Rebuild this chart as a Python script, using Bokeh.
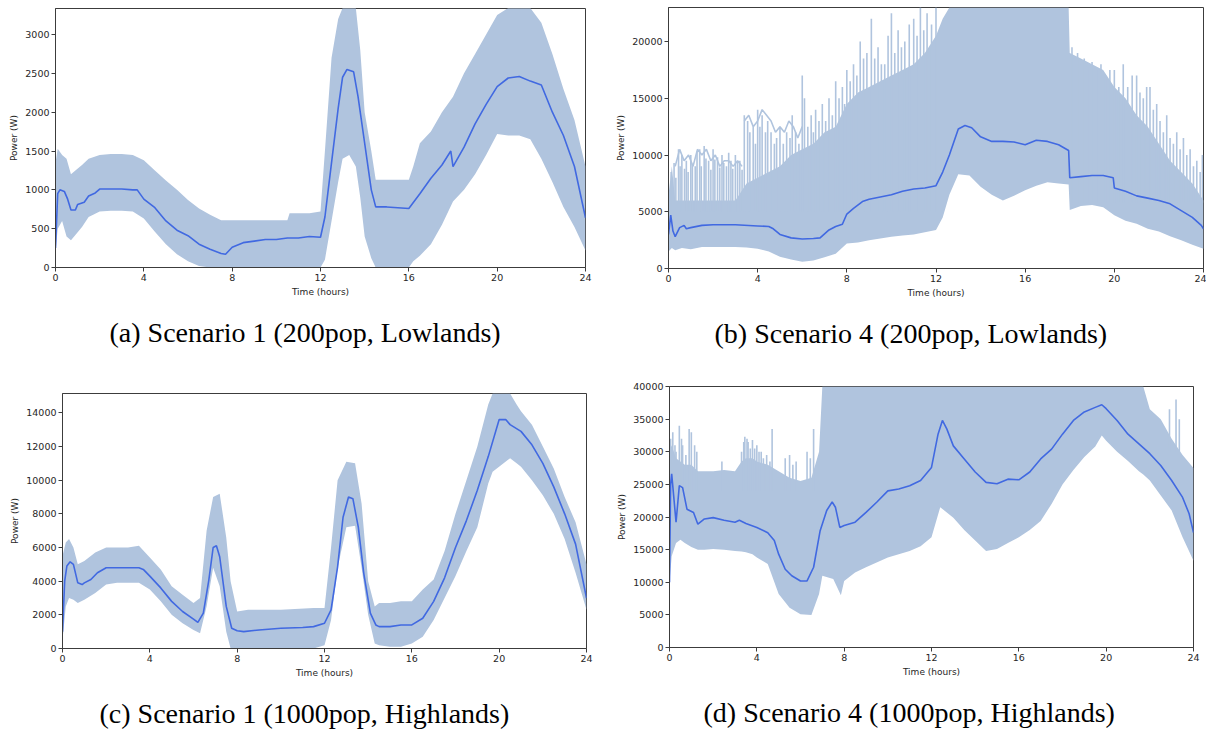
from bokeh.plotting import figure
from bokeh.layouts import column, row
from bokeh.models import Title, FixedTicker, Range1d
from bokeh.embed import file_html
from bokeh.resources import INLINE

BAND = "#b0c4de"
MEAN = "#4169e1"
AXIS = "#3c3c3c"
TXT = "#262626"

x_ticks = [0, 4, 8, 12, 16, 20, 24]

# ---------------- (a) Scenario 1 (200pop, Lowlands) ----------------
t_band_a = [0, 0.1, 0.3, 0.5, 0.7, 0.9, 1.2, 1.5, 2.0, 2.5, 3.0, 3.5, 4.0, 4.5, 5.0, 5.5, 6.0, 6.5, 7.0, 7.5,
            8.0, 9.0, 10.0, 10.5, 10.6, 11.5, 12.0, 12.2, 12.5, 12.8, 13.0, 13.3, 13.6, 13.8, 14.0, 14.3, 14.5,
            15.0, 15.5, 16.0, 16.2, 16.5, 17.0, 17.5, 18.0, 18.5, 19.0, 19.5, 20.0, 20.5, 21.0, 21.5, 22.0,
            22.5, 23.0, 23.5, 24.0]
upper_a = [1350, 1530, 1450, 1400, 1200, 1250, 1320, 1400, 1450, 1460, 1460, 1450, 1380, 1250, 1120, 1000, 870,
           760, 680, 610, 610, 610, 610, 610, 700, 700, 720, 1500, 2700, 3200, 3340, 3340, 3340, 2800, 2000,
           1500, 1130, 1130, 1130, 1130, 1300, 1600, 1750, 2000, 2200, 2500, 2750, 3000, 3250, 3340, 3340,
           3340, 3150, 2750, 2300, 1900, 1300]
lower_a = [200, 500, 600, 400, 350, 420, 520, 650, 720, 730, 730, 720, 630, 460, 300, 170, 80, 20, 0, 0, 0, 0,
           0, 0, 0, 0, 0, 100, 600, 1100, 1400, 1450, 1300, 900, 400, 120, 0, 0, 0, 0, 80, 150, 300, 550, 850,
           1000, 1200, 1450, 1720, 1700, 1700, 1650, 1400, 1100, 780, 520, 220]
t_mean_a = [0, 0.1, 0.2, 0.4, 0.55, 0.7, 0.9, 1.0, 1.3, 1.5, 1.8, 2.0, 2.5, 3.0, 3.5, 3.7, 4.0, 4.5, 5.0, 5.5,
            6.0, 6.5, 7.0, 7.5, 7.7, 8.0, 8.5, 9.0, 9.5, 10.0, 10.5, 11.0, 11.5, 12.0, 12.2, 12.5, 12.8, 13.0,
            13.2, 13.5, 13.7, 14.0, 14.3, 14.5, 15.0, 15.5, 16.0, 16.5, 17.0, 17.5, 17.9, 18.0, 18.5, 19.0,
            19.5, 20.0, 20.5, 21.0, 21.5, 22.0, 22.5, 23.0, 23.5, 24.0]
mean_a = [250, 950, 1000, 980, 880, 740, 740, 810, 840, 920, 960, 1010, 1010, 1010, 1000, 1000, 880, 770, 600,
          480, 410, 300, 235, 180, 170, 260, 320, 340, 360, 360, 380, 380, 400, 390, 650, 1350, 2050, 2450,
          2550, 2520, 2200, 1600, 1000, 780, 780, 770, 760, 950, 1150, 1320, 1500, 1300, 1550, 1850, 2100,
          2330, 2440, 2460, 2400, 2350, 2000, 1700, 1300, 640]

# ---------------- (b) Scenario 4 (200pop, Lowlands) ----------------
t_band_b = [0, 0.15, 0.3, 0.6, 1.0, 1.5, 2.0, 2.5, 3.0, 3.5, 4.0, 4.5, 5.0, 5.5, 6.0, 6.5, 7.0, 7.5, 8.0, 8.5,
            9.0, 9.5, 10.0, 10.5, 11.0, 11.5, 12.0, 12.3, 12.6, 13.0, 13.5, 14.0, 14.5, 15.0, 15.5, 16.0, 16.5,
            17.0, 17.5, 17.95, 18.0, 18.5, 19.0, 19.5, 20.0, 20.5, 21.0, 21.5, 22.0, 22.5, 23.0, 23.5, 24.0]
upper_b = [6500, 9000, 6000, 6000, 6000, 6000, 6000, 6000, 6000, 7500, 8000, 8500, 9000, 10000, 10500, 11000,
           12000, 12500, 14500, 15500, 16000, 16500, 17000, 17500, 18000, 19000, 20500, 22000, 23000, 23000,
           23000, 23000, 23000, 23000, 23000, 23000, 23000, 23000, 23000, 23000, 19000, 18500, 18000, 17500,
           16000, 15000, 13500, 12500, 11000, 9500, 8500, 7500, 6000]
lower_b = [1500, 1800, 1600, 1800, 1700, 1900, 1900, 1900, 1900, 1850, 1750, 1500, 1030, 800, 600, 700, 1000,
           1300, 2200, 2300, 2500, 2650, 2800, 2900, 3000, 3200, 3400, 4500, 6500, 8300, 8200, 7200, 6500,
           6000, 6400, 6900, 7300, 7600, 7500, 7400, 5150, 5500, 5600, 5400, 4700, 4200, 3950, 3500, 3250,
           2850, 2500, 2100, 1750]
t_mean_b = [0, 0.1, 0.2, 0.3, 0.5, 0.7, 0.8, 1.0, 1.5, 2.0, 3.0, 4.0, 4.5, 4.7, 5.0, 5.5, 6.0, 6.5, 6.8, 7.2,
            7.5, 7.8, 8.0, 8.3, 8.7, 9.0, 9.5, 10.0, 10.5, 11.0, 11.5, 12.0, 12.3, 12.6, 13.0, 13.3, 13.6,
            14.0, 14.5, 15.0, 15.5, 16.0, 16.5, 17.0, 17.5, 17.95, 18.0, 18.5, 19.0, 19.5, 19.95, 20.0, 20.5,
            21.0, 21.5, 22.0, 22.5, 23.0, 23.5, 23.9, 24.0]
mean_b = [3000, 4700, 3300, 2800, 3600, 3800, 3500, 3600, 3800, 3850, 3850, 3750, 3700, 3500, 3000, 2700, 2600,
          2650, 2700, 3400, 3700, 3900, 4800, 5300, 5900, 6100, 6300, 6500, 6800, 7000, 7100, 7300, 8500,
          10000, 12300, 12600, 12400, 11600, 11200, 11200, 11150, 10900, 11300, 11200, 10900, 10400, 8000,
          8100, 8200, 8200, 8000, 7100, 6800, 6400, 6200, 6000, 5700, 5100, 4500, 3800, 3500]
# individual outlier traces poking above the dense band (morning / late-day)
spike_t_b = [0.12, 0.25, 0.33, 0.45, 0.52, 0.6, 0.72, 0.8, 0.88, 1.0, 1.07, 1.2, 1.28, 1.4, 1.47, 1.6, 1.68,
             1.8, 1.9, 2.0, 2.08, 2.2, 2.3, 2.4, 2.48, 2.6, 2.7, 2.8, 2.88, 3.0, 3.1, 3.2, 3.3, 3.4,
             3.55, 3.65, 3.8, 3.9, 4.0, 4.1, 4.2, 4.35, 4.45, 4.6, 4.75, 4.85, 5.0, 5.15, 5.3, 5.45, 5.55,
             5.7, 5.85, 6.0, 6.1, 6.25, 6.4, 6.5, 6.6, 6.75, 6.9, 7.05, 7.2, 7.35, 7.5, 7.65, 7.8, 7.9,
             8.0, 8.15, 8.3, 8.45, 8.6, 8.75, 8.9, 9.1, 9.25, 9.4, 9.55, 9.7, 9.85, 10.0, 10.15, 10.3, 10.45,
             10.6, 10.8, 11.0, 11.15, 11.3, 11.45, 11.6, 11.8, 12.0]
spike_top_b = [8500, 9300, 8000, 10500, 9000, 10000, 8800, 9500, 8500, 10000, 9200, 9000, 10300, 10500, 9000,
               10800, 9700, 9500, 8700, 10500, 9600, 9800, 8900, 10000, 9300, 9000, 10200, 9500, 8800, 10000,
               9400, 9500, 8700, 13500,
               13000, 12000, 12500, 11000, 14000, 12500, 13500, 12000, 13000, 12000, 11000, 11500, 12500, 11000,
               12000, 11500, 13500, 12000, 11000, 17000, 15000, 12500, 13500, 12000, 14000, 13000, 14500, 13000,
               15000, 13500, 16500, 15000, 16000, 14500,
               17500, 16500, 18000, 17000, 20000, 18500, 19000, 22000, 18500, 19500, 18000, 18000, 20500, 22500,
               19000, 21000, 19500, 20000, 21500, 22000, 20500, 23000, 21000, 22500, 21500, 23000]
spike_t_b2 = [18.1, 18.2, 18.35, 18.5, 18.65, 18.8, 19.0, 19.2, 19.4, 19.6, 19.8, 20.0, 20.2, 20.4, 20.6, 20.8,
              21.0, 21.15, 21.3, 21.45, 21.6, 21.75, 21.9, 22.05, 22.2, 22.35, 22.5, 22.65, 22.8, 22.95, 23.1,
              23.25, 23.4, 23.55, 23.7, 23.85, 23.95]
spike_top_b2 = [19500, 18500, 19000, 18000, 18500, 17800, 18200, 17500, 18000, 17000, 17500, 17500, 16000, 18000,
                16000, 17000, 17000, 15500, 15000, 16000, 16000, 14000, 14500, 13000, 12000, 13500, 11500, 11000,
                12000, 10500, 11500, 10000, 10500, 9000, 9500, 8500, 10000]
trace1_t_b = [0.3, 0.5, 0.7, 0.9, 1.1, 1.3, 1.5, 1.7, 1.9, 2.1, 2.3, 2.5, 2.7, 2.9, 3.1, 3.3]
trace1_y_b = [9000, 10500, 9500, 10000, 9000, 10500, 10000, 10500, 9500, 10000, 9000, 9500, 9500, 9000, 9500, 9000]
trace2_t_b = [3.4, 3.6, 3.8, 4.0, 4.2, 4.4, 4.6, 4.8, 5.0, 5.2, 5.4, 5.6, 5.8, 6.0]
trace2_y_b = [13000, 13500, 12500, 13000, 14000, 13500, 13000, 12000, 12500, 12000, 13000, 12500, 11500, 12500]

# ---------------- (c) Scenario 1 (1000pop, Highlands) ----------------
t_band_c = [0, 0.15, 0.3, 0.5, 0.7, 1.0, 1.5, 2.0, 2.5, 3.0, 3.5, 4.0, 4.5, 5.0, 5.5, 6.0, 6.3, 6.6, 6.9, 7.2,
            7.5, 7.7, 8.0, 8.5, 10.0, 11.5, 12.0, 12.3, 12.6, 13.0, 13.4, 13.7, 14.0, 14.3, 14.5, 15.0, 15.5,
            16.0, 16.5, 17.0, 17.5, 18.0, 18.5, 19.0, 19.5, 19.7, 20.5, 20.8, 21.0, 21.5, 22.0, 22.5, 23.0,
            23.5, 24.0]
upper_c = [5500, 6300, 6500, 6000, 5000, 5200, 5700, 6000, 6000, 6000, 6100, 5400, 4700, 3700, 3200, 2700, 3000,
           7000, 9000, 9200, 6600, 4000, 2200, 2300, 2300, 2400, 2400, 6000, 10000, 11100, 11000, 8600, 4000,
           2500, 2700, 2700, 2800, 2800, 3500, 4100, 5800, 8000, 10000, 12000, 14500, 15150, 15150, 14500,
           14100, 13300, 12000, 10700, 9000, 7500, 5000]
lower_c = [500, 2500, 3000, 2900, 2700, 2900, 3300, 3800, 3900, 3900, 3900, 3500, 2800, 2000, 1500, 1100, 900,
           2500, 4800, 3700, 1000, 0, 0, 0, 0, 0, 200, 1700, 4800, 7200, 7300, 4800, 2000, 300, 200, 100, 100,
           300, 700, 1700, 3000, 4300, 5800, 7200, 9800, 10500, 11300, 11000, 10800, 10000, 9100, 8000, 6500,
           4500, 2300]
t_mean_c = [0, 0.1, 0.2, 0.35, 0.5, 0.7, 0.9, 1.0, 1.3, 1.6, 2.0, 2.5, 3.0, 3.5, 3.7, 4.0, 4.5, 5.0, 5.5, 6.0,
            6.2, 6.45, 6.7, 6.9, 7.05, 7.2, 7.5, 7.75, 8.0, 8.3, 9.0, 10.0, 11.0, 11.5, 12.0, 12.3, 12.6, 12.85,
            13.1, 13.3, 13.55, 13.8, 14.1, 14.35, 14.5, 15.0, 15.5, 16.0, 16.5, 17.0, 17.5, 18.0, 18.5, 19.0,
            19.5, 20.0, 20.3, 20.5, 21.0, 21.5, 22.0, 22.5, 23.0, 23.5, 24.0]
mean_c = [1000, 4000, 4900, 5150, 5000, 3900, 3800, 3900, 4100, 4500, 4800, 4800, 4800, 4800, 4700, 4300, 3600,
          2800, 2200, 1750, 1550, 2100, 4050, 6000, 6100, 5450, 2500, 1200, 1050, 1000, 1100, 1200, 1250, 1300,
          1500, 2300, 4850, 7800, 9000, 8900, 7200, 4450, 2100, 1400, 1300, 1300, 1400, 1400, 1800, 2800, 4200,
          6000, 7600, 9400, 11400, 13600, 13600, 13300, 12900, 12100, 11000, 9600, 8000, 6200, 3000]

# ---------------- (d) Scenario 4 (1000pop, Highlands) ----------------
t_band_d = [0, 0.1, 0.3, 0.5, 0.7, 1.0, 1.3, 1.6, 2.0, 2.5, 3.0, 3.3, 3.5, 3.8, 4.0, 4.5, 5.0, 5.5, 6.0, 6.5,
            6.85, 7.0, 7.5, 7.85, 8.0, 8.5, 9.0, 10.0, 11.0, 11.5, 12.0, 12.4, 13.0, 13.5, 14.0, 14.5, 15.0,
            15.5, 16.0, 16.5, 17.0, 17.5, 18.0, 18.5, 19.0, 19.5, 19.8, 20.0, 20.5, 21.0, 21.5, 21.7, 22.0,
            22.5, 23.0, 23.5, 24.0]
upper_d = [30000, 31000, 29000, 28500, 28000, 28000, 27000, 27000, 27000, 27200, 27000, 28500, 29000, 29000,
           28500, 28000, 27000, 26000, 25500, 26000, 30000, 40000, 40000, 40000, 40000, 40000, 40000, 40000,
           40000, 40000, 40000, 40000, 40000, 40000, 40000, 40000, 40000, 40000, 40000, 40000, 40000, 40000,
           40000, 40000, 40000, 40000, 40000, 40000, 40000, 40000, 40000, 40000, 36500, 35000, 32000, 29500,
           27500]
lower_d = [10000, 14000, 16000, 16500, 16000, 15400, 15000, 15000, 15100, 15000, 14800, 14700, 14600, 14300,
           13800, 12800, 8200, 6100, 5100, 5000, 8200, 11000, 10500, 8000, 10200, 11500, 12300, 13800, 14800,
           15500, 16900, 21500, 19900, 18000, 16400, 14800, 15100, 16000, 16900, 18000, 19400, 22000, 25000,
           27200, 29200, 30800, 32500, 31700, 30000, 28600, 27000, 26500, 25600, 23300, 21000, 16900, 13300]
t_mean_d = [0, 0.05, 0.1, 0.3, 0.45, 0.6, 0.8, 1.1, 1.3, 1.6, 2.0, 2.5, 3.0, 3.2, 3.5, 4.0, 4.5, 4.8, 5.0, 5.3,
            5.6, 6.0, 6.3, 6.6, 6.9, 7.2, 7.45, 7.6, 7.8, 8.0, 8.5, 9.0, 9.5, 10.0, 10.5, 11.0, 11.5, 12.0,
            12.3, 12.5, 12.7, 13.0, 13.5, 14.0, 14.5, 15.0, 15.5, 16.0, 16.5, 17.0, 17.5, 18.0, 18.5, 19.0,
            19.5, 19.8, 20.0, 20.5, 21.0, 21.5, 22.0, 22.5, 23.0, 23.5, 23.8, 24.0]
mean_d = [10000, 25000, 26600, 19200, 24800, 24500, 21200, 20700, 18900, 19700, 19900, 19500, 19200, 19500,
          19000, 18400, 17600, 16400, 14300, 12000, 11000, 10200, 10200, 12300, 17900, 21000, 22300, 21500,
          18400, 18700, 19200, 20700, 22300, 24000, 24300, 24800, 25600, 27600, 32700, 34800, 33500, 30900,
          28900, 26900, 25300, 25100, 25800, 25700, 26900, 28900, 30400, 32700, 34800, 36100, 36800, 37200,
          36600, 34800, 32700, 31200, 29700, 27900, 25600, 23000, 20500, 17600]
spike_t_d = [0.05, 0.15, 0.25, 0.3, 0.45, 0.55, 0.6, 0.75, 0.9, 1.0, 1.15, 1.25, 2.4, 3.3, 3.4, 3.45, 3.55, 3.6,
             3.7, 3.8, 3.9, 4.0, 4.1, 4.2, 4.3, 4.45, 4.6, 4.7, 5.3, 5.5, 5.65, 5.8, 6.3, 6.45, 6.6]
spike_top_d = [32000, 33000, 31000, 30000, 34000, 32000, 31000, 29500, 33500, 33000, 31000, 30000, 28500, 30000,
               31500, 32300, 32000, 31500, 30500, 31800, 30500, 31000, 30000, 30000, 29000, 29500, 28500, 33500,
               29000, 29500, 28000, 28500, 30000, 29000, 33500]
spike_t_d2 = [22.9, 23.2, 23.35]
spike_top_d2 = [36500, 38000, 35000]

y_ticks_a = [0, 500, 1000, 1500, 2000, 2500, 3000]
y_ticks_b = [0, 5000, 10000, 15000, 20000]
y_ticks_c = [0, 2000, 4000, 6000, 8000, 10000, 12000, 14000]
y_ticks_d = [0, 5000, 10000, 15000, 20000, 25000, 30000, 35000, 40000]

captions = ["(a) Scenario 1 (200pop, Lowlands)", "(b) Scenario 4 (200pop, Lowlands)",
            "(c) Scenario 1 (1000pop, Highlands)", "(d) Scenario 4 (1000pop, Highlands)"]


def make_panel(tb, up, lo, tm, mean, ymax, yticks, caption, cap_off,
               fw, fh, bl, br, bt, bb, spikes=(), traces=()):
    p = figure(frame_width=fw, frame_height=fh, x_range=Range1d(0, 24), y_range=Range1d(0, ymax),
               output_backend="svg", toolbar_location=None,
               min_border_left=bl, min_border_right=br, min_border_top=bt, min_border_bottom=bb,
               background_fill_color="white", border_fill_color="white")
    p.xgrid.visible = False
    p.ygrid.visible = False
    p.outline_line_color = AXIS
    p.outline_line_width = 1
    p.outline_line_alpha = 1
    p.varea(x=tb, y1=lo, y2=up, fill_color=BAND)
    for st, stop, base in spikes:
        p.segment(x0=st, y0=base, x1=st, y1=stop, line_color=BAND, line_width=1.6)
    for tt, yy in traces:
        p.line(tt, yy, line_color=BAND, line_width=1.6)
    p.line(tm, mean, line_color=MEAN, line_width=1.6)

    p.xaxis.ticker = FixedTicker(ticks=x_ticks)
    p.yaxis.ticker = FixedTicker(ticks=yticks)
    p.xaxis.axis_label = "Time (hours)"
    p.yaxis.axis_label = "Power (W)"
    for ax in (p.xaxis[0], p.yaxis[0]):
        ax.axis_line_color = AXIS
        ax.major_tick_line_color = AXIS
        ax.minor_tick_line_color = None
        ax.major_tick_out = 4
        ax.major_tick_in = 0
        ax.major_label_standoff = 2
        ax.major_label_text_font = "DejaVu Sans"
        ax.major_label_text_font_size = "9.5px"
        ax.major_label_text_color = TXT
        ax.axis_label_text_font = "DejaVu Sans"
        ax.axis_label_text_font_size = "9px"
        ax.axis_label_text_font_style = "normal"
        ax.axis_label_text_color = TXT
        ax.axis_label_standoff = 3
    # blank spacer between the x axis and the caption
    p.add_layout(Title(text=" ", text_font_size="1px", standoff=12), "below")
    p.add_layout(Title(text=caption, align="left", offset=cap_off, standoff=0,
                       text_font="Liberation Serif", text_font_size="28px", text_font_style="normal",
                       text_color="black"), "below")
    return p


pa = make_panel(t_band_a, upper_a, lower_a, t_mean_a, mean_a, 3335, y_ticks_a, captions[0], 54,
                530, 259, 55, 25, 8, 111)
pb = make_panel(t_band_b, upper_b, lower_b, t_mean_b, mean_b, 23000, y_ticks_b, captions[1], 46,
                535, 261, 58, 3, 7, 110,
                spikes=[(spike_t_b, spike_top_b, 5000), (spike_t_b2, spike_top_b2, 5800)],
                traces=[(trace1_t_b, trace1_y_b), (trace2_t_b, trace2_y_b)])
pc = make_panel(t_band_c, upper_c, lower_c, t_mean_c, mean_c, 15150, y_ticks_c, captions[2], 37,
                524, 255, 62, 27, 15, 84)
pd = make_panel(t_band_d, upper_d, lower_d, t_mean_d, mean_d, 40000, y_ticks_d, captions[3], 34,
                524, 261, 56, 10, 8, 85,
                spikes=[(spike_t_d, spike_top_d, 24000), (spike_t_d2, spike_top_d2, 30000)])

layout = column(row(column(pa), column(pb)), row(column(pc), column(pd)))
open("out.html", "w").write(file_html(layout, INLINE))
